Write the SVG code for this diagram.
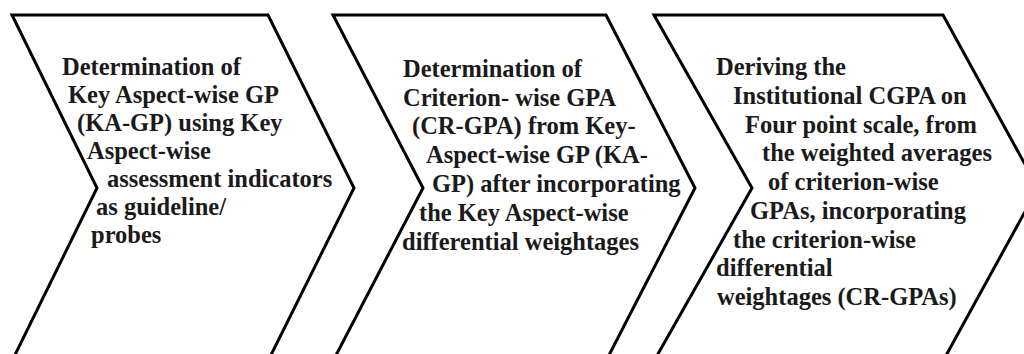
<svg xmlns="http://www.w3.org/2000/svg" width="1024" height="354" viewBox="0 0 1024 354">
<style>
.chev{fill:#fff;stroke:#000;stroke-width:3;stroke-linejoin:miter}
.t{font-family:"Liberation Serif","Times New Roman",serif;font-weight:bold;font-size:24.5px;fill:#1a1a1a}
</style>
<rect width="1024" height="354" fill="#fff"/>
<g id="node1">
<polygon class="chev" points="12,15 268,15 354,188 268,361 12,361 97,188"/>
<text class="t"><tspan x="62" y="75">Determination of</tspan><tspan x="68" y="103">Key Aspect-wise GP</tspan><tspan x="77" y="131">(KA-GP) using Key</tspan><tspan x="87" y="159">Aspect-wise</tspan><tspan x="107" y="187">assessment indicators</tspan><tspan x="96" y="215">as guideline/</tspan><tspan x="91" y="243">probes</tspan></text>
</g>
<g id="node2">
<polygon class="chev" points="333,15 606,15 695,188 606,361 333,361 423,188"/>
<text class="t"><tspan x="403" y="77">Determination of</tspan><tspan x="403" y="106">Criterion- wise GPA</tspan><tspan x="412" y="134">(CR-GPA) from Key-</tspan><tspan x="426" y="163">Aspect-wise GP (KA-</tspan><tspan x="432" y="192">GP) after incorporating</tspan><tspan x="419" y="221">the Key Aspect-wise</tspan><tspan x="402" y="250">differential weightages</tspan></text>
</g>
<g id="node3">
<polygon class="chev" points="654,15 943,15 1038,188 943,361 654,361 752,188"/>
<text class="t"><tspan x="716" y="75">Deriving the</tspan><tspan x="733" y="104">Institutional CGPA on</tspan><tspan x="745" y="133">Four point scale, from</tspan><tspan x="762" y="161">the weighted averages</tspan><tspan x="768" y="190">of criterion-wise</tspan><tspan x="750" y="219">GPAs, incorporating</tspan><tspan x="733" y="248">the criterion-wise</tspan><tspan x="716" y="276">differential</tspan><tspan x="717" y="305">weightages (CR-GPAs)</tspan></text>
</g>
<g id="connectors"></g>
</svg>
